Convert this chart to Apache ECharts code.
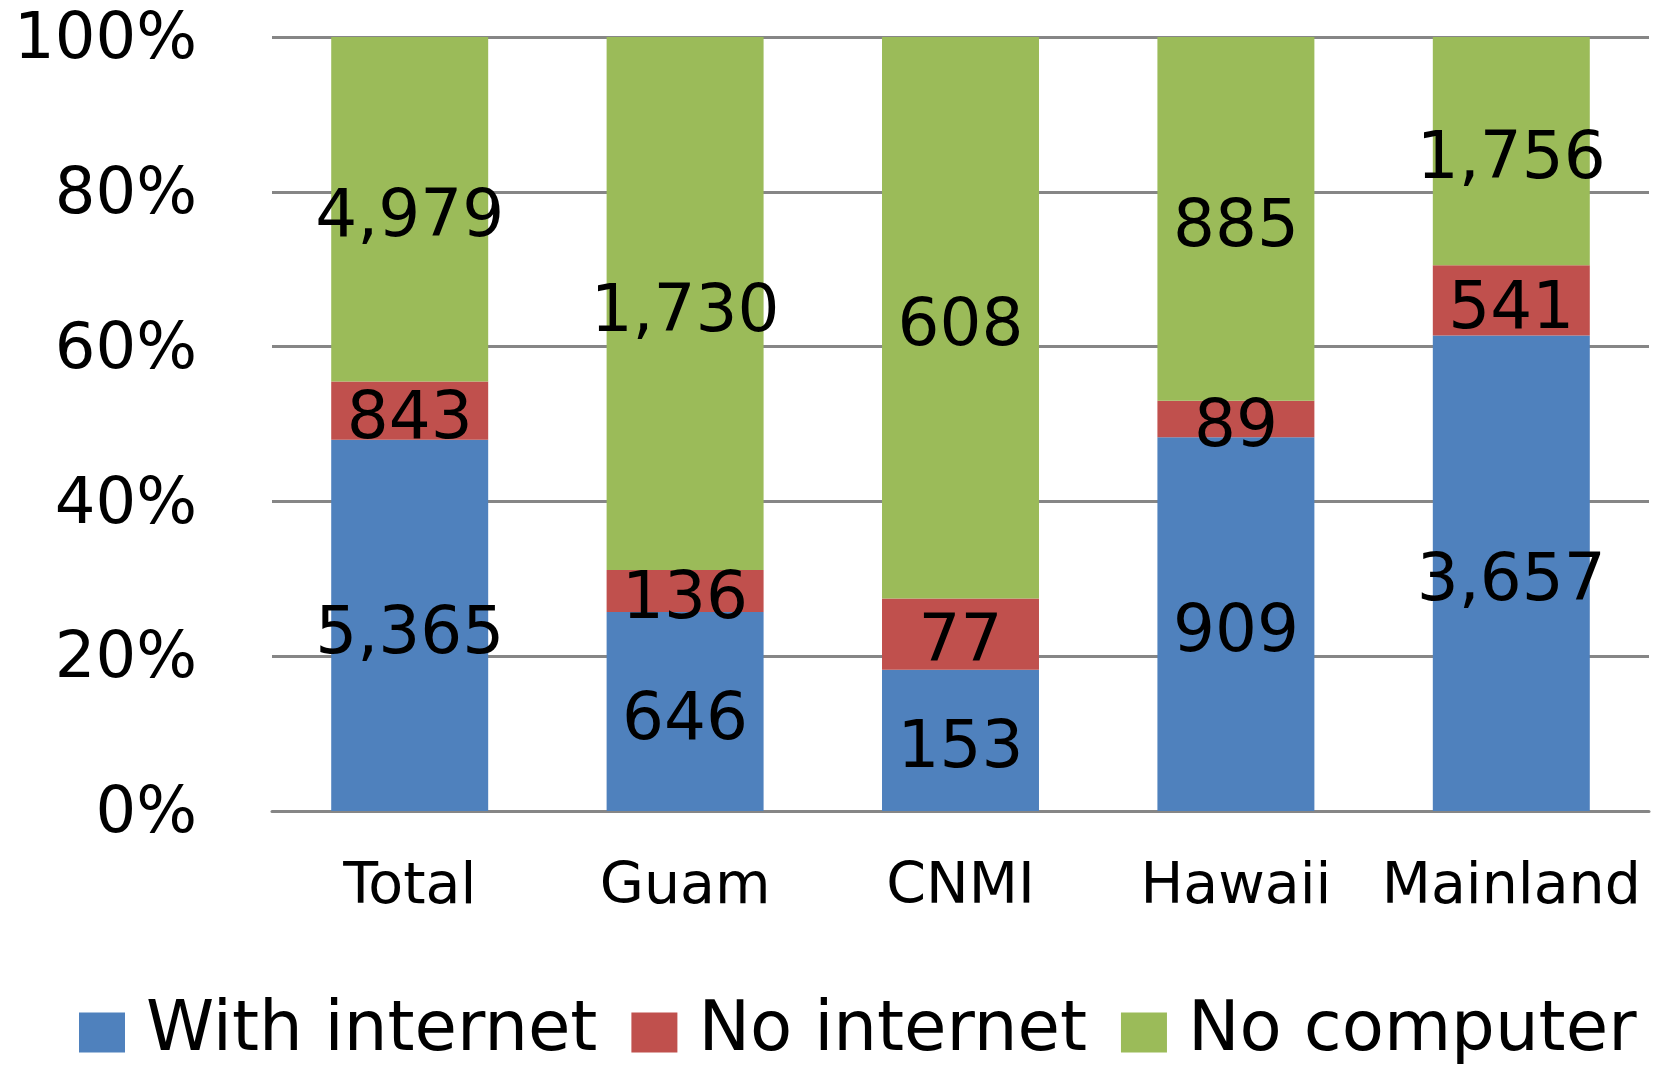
<!DOCTYPE html>
<html>
<head>
<meta charset="utf-8">
<script src="https://cdn.jsdelivr.net/npm/echarts@6/dist/echarts.min.js"></script>
<style>
  html, body { margin: 0; padding: 0; background: #fff; }
  #chart { width: 1655px; height: 1067px; }
</style>
</head>
<body>
<div id="chart"></div>
<script>
// categories and household counts
const categories = ['Total', 'Guam', 'CNMI', 'Hawaii', 'Mainland'];
const withInternet = [5365, 646, 153, 909, 3657];
const noInternet = [843, 136, 77, 89, 541];
const noComputer = [4979, 1730, 608, 885, 1756];
const yTicks = ['0%', '20%', '40%', '60%', '80%', '100%'];

const FONT = 'DejaVu Sans';

// 100% stacked: each bar is split by share of its own total
const totals = categories.map((c, i) => withInternet[i] + noInternet[i] + noComputer[i]);
const share = arr => arr.map((v, i) => ({ value: v / totals[i] * 100, count: v }));

const fmt = p => p.data.count.toLocaleString('en-US');

function barSeries(name, arr, color) {
    return {
        name: name,
        type: 'bar',
        stack: 'all',
        barWidth: '57%',
        data: share(arr),
        itemStyle: { color: color },
        label: {
            show: true,
            position: 'inside',
            offset: [0, 10],
            formatter: fmt,
            color: '#000',
            fontFamily: FONT,
            fontSize: 66
        }
    };
}

let mychart = echarts.init(document.getElementById('chart'));

mychart.setOption({
    animation: false,
    grid: { left: 272, right: 6, top: 37, bottom: 256, containLabel: false },
    xAxis: {
        type: 'category',
        data: categories,
        axisLine: { show: true, lineStyle: { color: '#868686', width: 3 } },
        axisTick: { show: false },
        axisLabel: { interval: 0, color: '#000', fontFamily: FONT, fontSize: 57, margin: 49 }
    },
    yAxis: {
        type: 'value',
        min: 0,
        max: 100,
        interval: 20,
        axisLine: { show: false },
        axisTick: { show: false },
        splitLine: { lineStyle: { color: '#868686', width: 3 } },
        axisLabel: {
            margin: 75,
            formatter: v => '{t|' + yTicks[Math.round(v / 20)] + '}',
            rich: {
                t: { color: '#000', fontFamily: FONT, fontSize: 64, padding: [9, 0, 0, 0] }
            }
        }
    },
    legend: {
        bottom: 0,
        left: 79,
        padding: 0,
        itemWidth: 46,
        itemHeight: 40,
        itemGap: 34,
        icon: 'rect',
        textStyle: { color: '#000', fontFamily: FONT, fontSize: 69, padding: [8, 0, 0, 16] },
        data: ['With internet', 'No internet', 'No computer']
    },
    series: [
        barSeries('With internet', withInternet, '#4F81BD'),
        barSeries('No internet', noInternet, '#C0504D'),
        barSeries('No computer', noComputer, '#9BBB59')
    ]
});
</script>
</body>
</html>
